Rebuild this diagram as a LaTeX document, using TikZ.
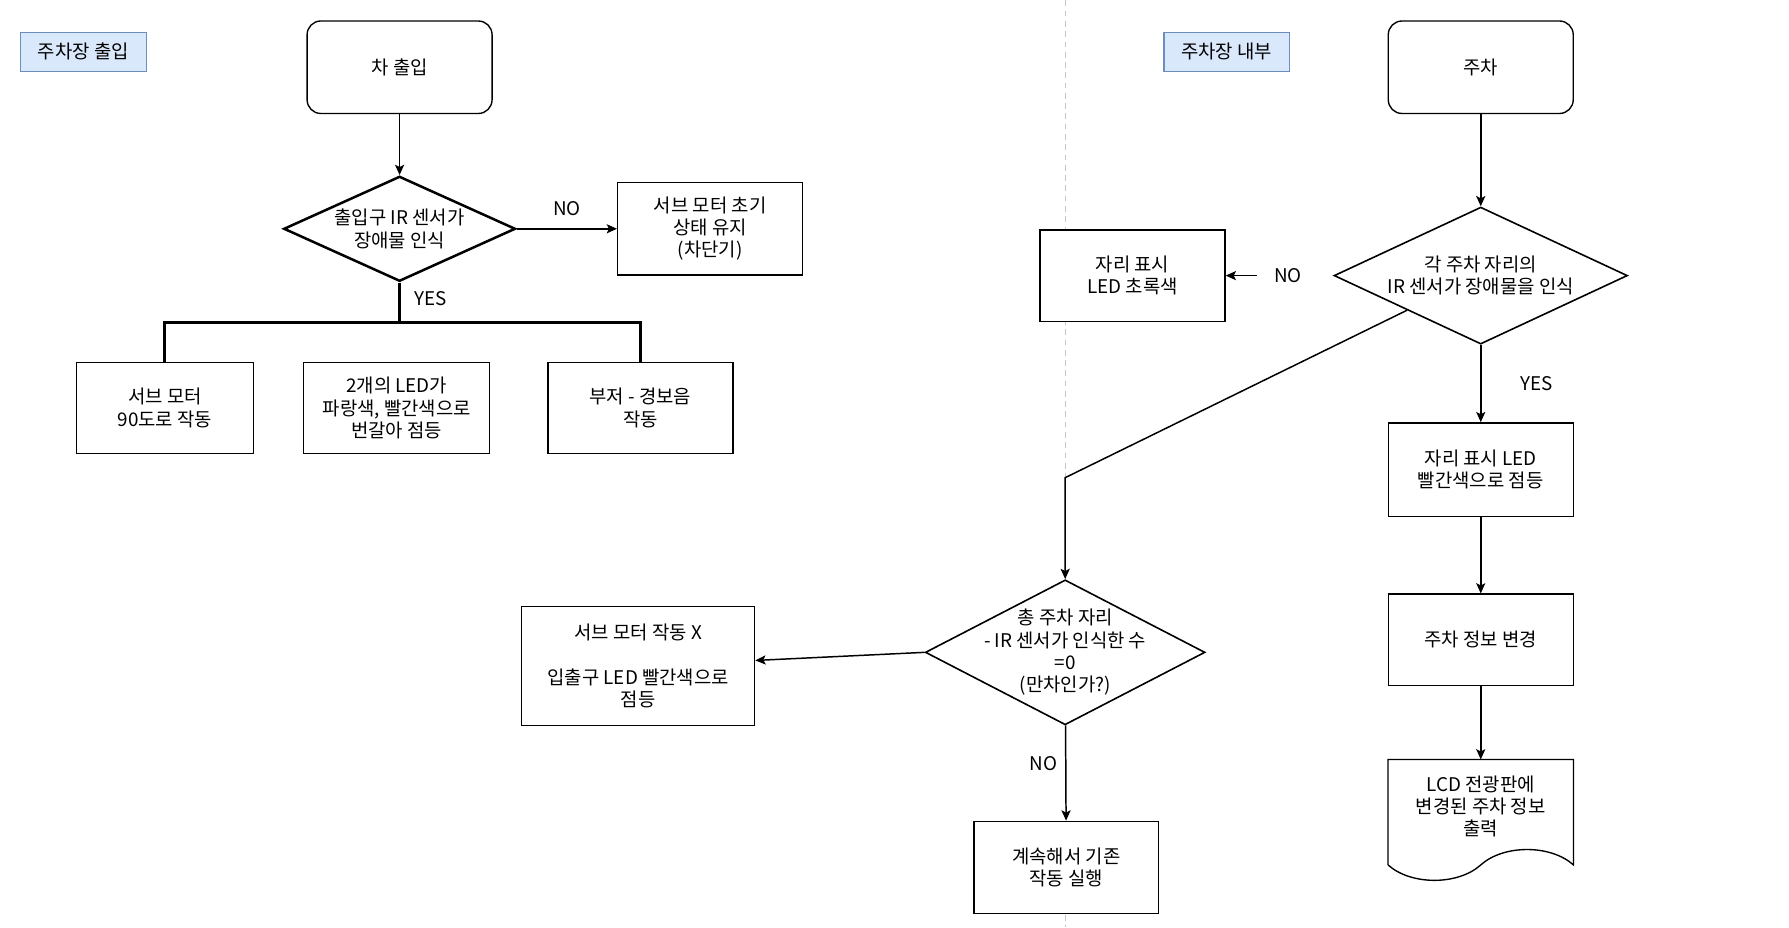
\documentclass[tikz,border=0pt]{standalone}
\usepackage{fontspec}
\setmainfont{Noto Sans CJK KR}
\usetikzlibrary{shapes.geometric}
\usetikzlibrary{arrows.meta}

\definecolor{tagfill}{HTML}{DAE8FC}
\definecolor{tagline}{HTML}{6C8EBF}

\begin{document}
\begin{tikzpicture}[
    x=1pt, y=-1pt,
    font=\fontsize{16.5}{19.5}\selectfont,
    box node/.style={draw, fill=white, line width=1.2pt, minimum width=\W, minimum height=\H, align=center, inner sep=2pt},
    start node/.style={box node, rounded corners=12pt},
    decision node/.style={diamond, draw, fill=white, line width=1.4pt, inner sep=0pt},
    tag node/.style={draw=tagline, fill=tagfill, line width=1pt, minimum width=110pt, minimum height=34pt},
    edge label/.style={inner sep=0pt},
    arrow/.style={-{Stealth[length=9pt, width=8pt, inset=2pt]}, line width=1.3pt},
    bus/.style={line width=2.6pt},
    divider/.style={draw=gray!45, line width=0.8pt, dash pattern=on 5pt off 4pt},
    ]
  \def\W{162pt}
  \def\H{81pt}

  \fill[white] (0,0) rectangle (1567,812);
  \draw[divider] (933,0) -- (933,812);

  % 주차장 출입
  \node[tag node] (tag in) at (73,45) {주차장 출입};
  \node[start node] (entry) at (350,58.5) {차 출입};
  \node[decision node, line width=2.2pt, minimum width=203pt, minimum height=92pt,
        label={[align=center]center:{출입구 IR 센서가\\장애물 인식}}] (gate) at (350,200) {};
  \node[box node] (hold) at (622,200) {서브 모터 초기\\상태 유지\\(차단기)};
  \node[box node, minimum width=155pt, minimum height=80pt] (servo) at (144.5,357) {서브 모터\\90도로 작동};
  \node[box node, minimum width=163pt, minimum height=80pt] (led) at (347.5,357) {2개의 LED가\\파랑색, 빨간색으로\\번갈아 점등};
  \node[box node, minimum height=80pt] (buzzer) at (561,357) {부저 - 경보음\\작동};
  \coordinate (fork) at (350,282);

  \draw[arrow] (entry) -- (gate);
  \draw[arrow] (gate) -- node[edge label, above=11pt] (no1) {NO} (hold);
  \draw[bus] (gate) -- node[edge label, pos=0.4, right=12pt] (yes1) {YES} (fork);
  \draw[bus] (servo.north) |- (fork) -| (buzzer.north);

  % 주차장 내부
  \node[tag node] (tag park) at (1074.5,45) {주차장 내부};
  \node[start node] (park) at (1297,58.5) {주차};
  \node[decision node, minimum width=257pt, minimum height=120pt,
        label={[align=center]center:{각 주차 자리의\\IR 센서가 장애물을 인식}}] (sensor) at (1297,241) {};
  \node[box node, minimum height=80pt] (green) at (992,241) {자리 표시\\LED 초록색};
  \node[edge label] (no2) at (1128,241) {NO};
  \node[box node, minimum height=82pt] (red) at (1297,411) {자리 표시 LED\\빨간색으로 점등};
  \node[box node, minimum height=80pt] (info) at (1297,560) {주차 정보 변경};
  \node[minimum width=\W, minimum height=92pt, inner sep=0pt] (lcd) at (1297,711) {};
  \draw[line width=1.2pt, fill=white] (lcd.south west) -- (lcd.north west) -- (lcd.north east) -- (lcd.south east)
    .. controls +(-20,-18) and +(20,-18) .. (lcd.south)
    .. controls +(-20,18) and +(20,18) .. (lcd.south west);
  \node[align=center] (lcd text) at (1297,706) {LCD 전광판에\\변경된 주차 정보\\출력};

  \node[decision node, minimum width=245pt, minimum height=127pt,
        label={[align=center]center:{총 주차 자리\\- IR 센서가 인식한 수\\=0\\(만차인가?)}}] (full check) at (933,571) {};
  \node[box node, minimum width=204pt, minimum height=104pt] (full) at (559,583) {서브 모터 작동 X\\[19.5pt]입출구 LED 빨간색으로\\점등};
  \node[box node] (keep) at (934,759.5) {계속해서 기존\\작동 실행};
  \coordinate (bend) at (933,418);

  \draw[arrow] (park) -- (sensor);
  \draw[arrow, shorten <=15pt] (no2) -- (green);
  \draw[arrow] (sensor) -- node[edge label, right=34pt] (yes2) {YES} (red);
  \draw[arrow] (red) -- (info);
  \draw[arrow] (info) -- (lcd);
  \draw[arrow] (sensor.south west) -- (bend) -- (full check);
  \draw[arrow] (full check.west) -- (full);
  \draw[arrow] (full check) -- node[edge label, pos=0.4, left=7pt] (no3) {NO} (keep);
\end{tikzpicture}
\end{document}
